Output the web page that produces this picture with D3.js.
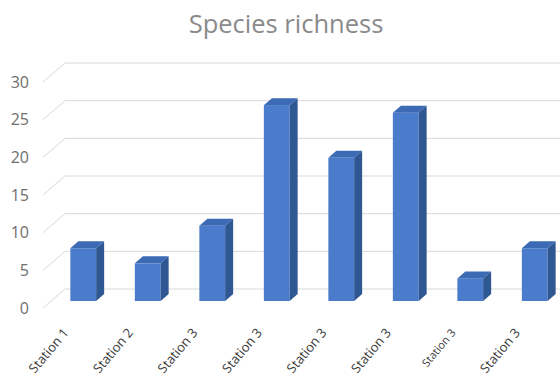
<!DOCTYPE html>
<html>
<head>
<meta charset="utf-8">
<script src="https://cdn.jsdelivr.net/npm/d3@7"></script>
<style>
  html, body { margin: 0; padding: 0; background: #fff; }
  svg { display: block; font-family: "Open Sans", "Noto Sans", sans-serif; }
</style>
</head>
<body>
<svg id="chart" width="560" height="380"></svg>
<script>
// Species richness per station
const categories = ["Station 1", "Station 2", "Station 3", "Station 3",
                    "Station 3", "Station 3", "Station 3", "Station 3"];
const richness = [7, 5, 10, 26, 19, 25, 3, 7];
const tickValues = [0, 5, 10, 15, 20, 25, 30];
const title = "Species richness";

const W = 560, H = 380;
const svg = d3.select("#chart");

// Oblique 3D projection: floor depth and bar placement within it
const depth = { dx: 22, dy: -19 };
const barOffset = { dx: 8, dy: -7 };
const barDepth = { dx: 8, dy: -7 };

const x = d3.scaleBand()
  .domain(d3.range(categories.length))
  .range([43, 559])
  .paddingInner(0.6)
  .paddingOuter(0.3);

const y = d3.scaleLinear().domain([0, 30]).range([308, 82]);

const colors = {
  front: "#4a7ccb",
  top: "#3d6ab5",
  side: "#2f5791",
  grid: "#d9d9d9",
  tick: "#6e6e6e",
  label: "#3a3a3a",
  title: "#8a8a8a"
};

// Title
svg.append("text")
  .attr("x", 286).attr("y", 33)
  .attr("text-anchor", "middle")
  .attr("font-size", 25.5)
  .attr("fill", colors.title)
  .text(title);

// Gridlines: short diagonal on the side wall, then along the back wall
const grid = svg.append("g").attr("stroke", colors.grid).attr("fill", "none").attr("stroke-width", 1);
tickValues.forEach(t => {
  const fy = y(t);
  const x0 = x.range()[0];
  grid.append("path")
    .attr("d", `M${x0},${fy}L${x0 + depth.dx},${fy + depth.dy}L${W},${fy + depth.dy}`);
});

// Value axis labels
const axis = d3.axisLeft(y).tickValues(tickValues).tickSize(0).tickPadding(0);
const axisG = svg.append("g").attr("transform", "translate(29,0)").call(axis);
axisG.select(".domain").remove();
axisG.selectAll("text")
  .attr("font-family", "\"Open Sans\", \"Noto Sans\", sans-serif")
  .attr("font-size", 16)
  .attr("fill", colors.tick);

// 3D columns: front face, top face, side face
const bars = svg.append("g").selectAll("g.bar")
  .data(richness)
  .join("g").attr("class", "bar");

const bw = x.bandwidth();
const frontX = (d, i) => x(i) + barOffset.dx;
const frontTop = d => y(d) + barOffset.dy;
const frontBottom = () => y(0) + barOffset.dy;

bars.append("rect")
  .attr("x", frontX)
  .attr("y", frontTop)
  .attr("width", bw)
  .attr("height", d => y(0) - y(d))
  .attr("fill", colors.front);

bars.append("path")
  .attr("fill", colors.top)
  .attr("d", (d, i) => {
    const fx = frontX(d, i), fy = frontTop(d);
    return `M${fx},${fy}L${fx + barDepth.dx},${fy + barDepth.dy}` +
           `L${fx + bw + barDepth.dx},${fy + barDepth.dy}L${fx + bw},${fy}Z`;
  });

bars.append("path")
  .attr("fill", colors.side)
  .attr("d", (d, i) => {
    const fx = frontX(d, i) + bw, fy = frontTop(d), fb = frontBottom();
    return `M${fx},${fy}L${fx + barDepth.dx},${fy + barDepth.dy}` +
           `L${fx + barDepth.dx},${fb + barDepth.dy}L${fx},${fb}Z`;
  });

// Category labels, rotated
const labelSize = [13, 13, 13, 13, 13, 13, 11, 13];
svg.append("g").selectAll("text")
  .data(categories)
  .join("text")
  .attr("transform", (d, i) => {
    const cx = frontX(0, i) + bw / 2 - 14;
    return `translate(${cx},333) rotate(-50)`;
  })
  .attr("text-anchor", "end")
  .attr("font-size", (d, i) => labelSize[i])
  .attr("fill", colors.label)
  .text(d => d);
</script>
</body>
</html>
